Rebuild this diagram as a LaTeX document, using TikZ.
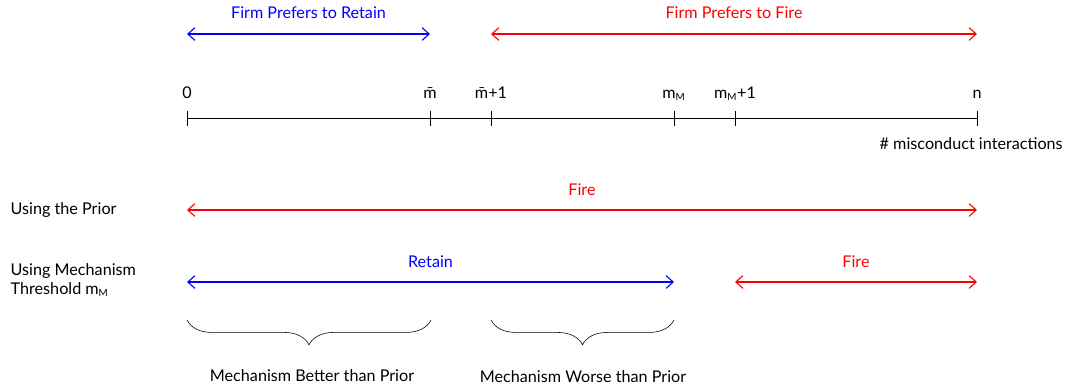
\documentclass[tikz,border=0pt]{standalone}
\usepackage{fontspec}
\setmainfont{Lato}
\usepackage{tikz}
\usetikzlibrary{arrows.meta, decorations.pathreplacing}

\newcommand{\mM}{m\textsubscript{\scriptsize M}}

\begin{document}
\begin{tikzpicture}[
    x=0.025cm, y=-0.025cm,
    >={Straight Barb[length=5pt, width=9pt]},
    lbl/.style={font=\fontsize{11.5}{13.5}\selectfont, inner sep=1pt},
    span/.style={<->, thick},
    tick/.style={thin},
    brc/.style={decorate, decoration={brace, mirror, amplitude=0.62cm}, thin}
]
\useasboundingbox (0,0) rectangle (1070,391);

% tick positions on the axis
\coordinate (t0) at (187,118);
\coordinate (tmb) at (430,118);
\coordinate (tmb1) at (491,118);
\coordinate (tm) at (674,118);
\coordinate (tm1) at (735,118);
\coordinate (tn) at (977,118);

% top: preferences
\coordinate (pr0) at (187,34);
\coordinate (pr1) at (430,34);
\coordinate (pf0) at (491,34);
\coordinate (pf1) at (977,34);
\draw[span, blue] (pr0) -- (pr1) node[lbl, midway, above=9.5pt] {Firm Prefers to Retain};
\draw[span, red] (pf0) -- (pf1) node[lbl, midway, above=9.5pt] {Firm Prefers to Fire};

% axis
\draw (t0) -- (tn);
\foreach \t/\txt in {t0/0, tmb/\={m}, tmb1/\={m}+1, tm/\mM, tm1/\mM+1, tn/n} {
  \draw[tick] ([yshift=5pt]\t) -- ([yshift=-5.5pt]\t);
  \node[lbl, anchor=base] at ([yshift=14pt]\t) {\txt};
}
\node[lbl, anchor=west] (axislbl) at (878,144) {\# misconduct interactions};

% using the prior
\node[lbl, anchor=west] (prior) at (9,210) {Using the Prior};
\coordinate (fa0) at (187,210);
\coordinate (fa1) at (977,210);
\draw[span, red] (fa0) -- (fa1) node[lbl, midway, above=9pt] {Fire};

% using the mechanism
\node[lbl, anchor=west, align=left] (mech) at (9,280) {Using Mechanism\\Threshold \mM};
\coordinate (ra0) at (187,282);
\coordinate (ra1) at (674,282);
\coordinate (rf0) at (735,282);
\coordinate (rf1) at (977,282);
\draw[span, blue] (ra0) -- (ra1) node[lbl, midway, above=9pt] {Retain};
\draw[span, red] (rf0) -- (rf1) node[lbl, midway, above=9pt] {Fire};

% braces
\coordinate (b0) at (187,320);
\coordinate (b1) at (431,320);
\coordinate (w0) at (491,320);
\coordinate (w1) at (674,320);
\draw[brc] (b0) -- (b1);
\draw[brc] (w0) -- (w1);
\node[lbl] (better) at (312,376) {Mechanism Better than Prior};
\node[lbl] (worse) at (583,377) {Mechanism Worse than Prior};

\end{tikzpicture}
\end{document}
